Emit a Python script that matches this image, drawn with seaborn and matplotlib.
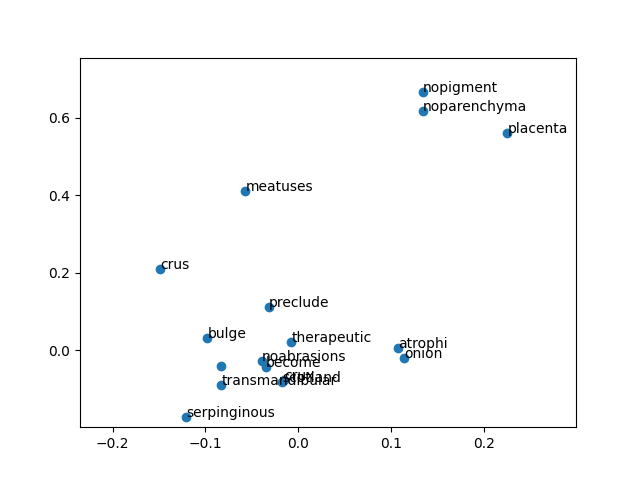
import pandas as pd
import seaborn as sns
import matplotlib
matplotlib.use('Agg')
import matplotlib.pyplot as plt

words = ['nopigment', 'noparenchyma', 'placenta', 'meatuses', 'crus', 'preclude',
         'bulge', 'therapeutic', 'atrophi', 'onion', 'noabrasions', 'become', '',
         'transmandibular', 'crux', 'scotland', 'serpinginous']
xs = [0.134, 0.134, 0.225, -0.057, -0.149, -0.032,
      -0.098, -0.0075, 0.107, 0.114, -0.039, -0.0345, -0.083,
      -0.083, -0.015, -0.017, -0.121]
ys = [0.667, 0.618, 0.561, 0.411, 0.210, 0.111,
      0.031, 0.021, 0.005, -0.021, -0.028, -0.044, -0.041,
      -0.091, -0.078, -0.082, -0.173]

df = pd.DataFrame({'word': words, 'x': xs, 'y': ys})

fig, ax = plt.subplots(figsize=(6.4, 4.8), dpi=100)
sns.scatterplot(data=df, x='x', y='y', ax=ax, s=36, linewidth=1,
                edgecolor='face', color='#1f77b4')
for i, row in df.iterrows():
    ax.text(row['x'], row['y'], row['word'])

ax.set_xlim(-0.235, 0.299)
ax.set_ylim(-0.199, 0.755)
ax.set_xlabel('')
ax.set_ylabel('')
plt.savefig('out.png')
